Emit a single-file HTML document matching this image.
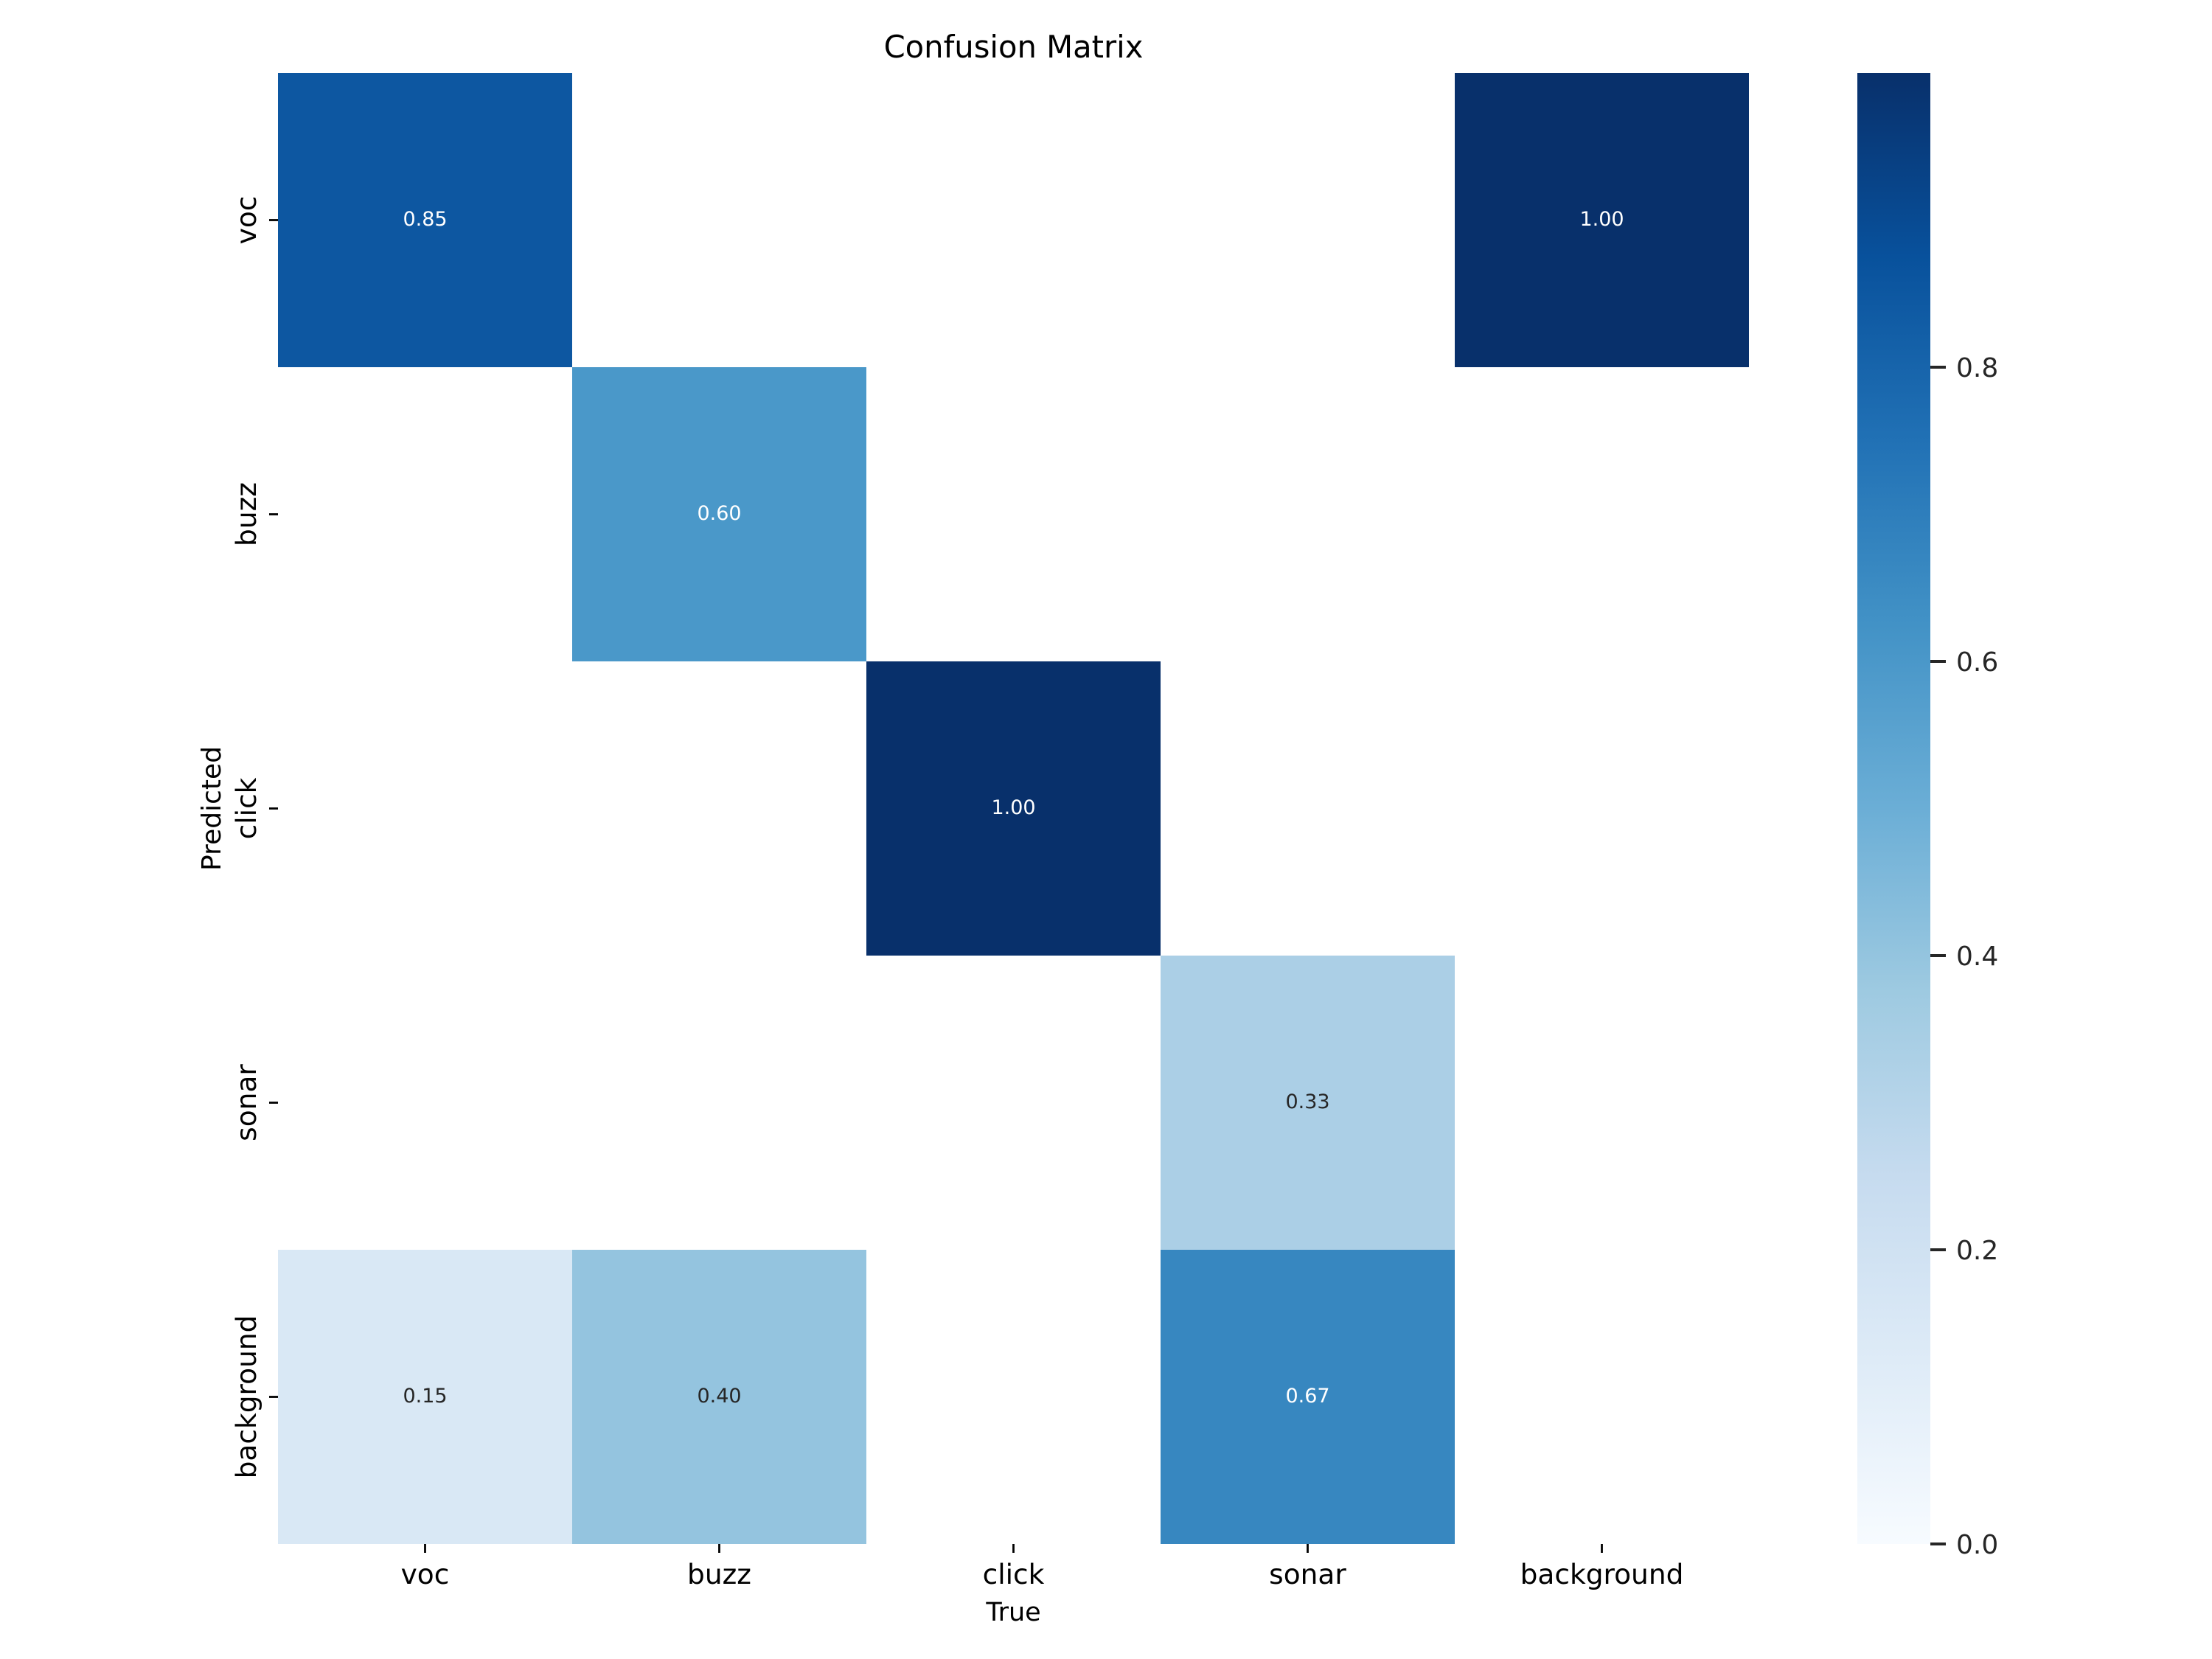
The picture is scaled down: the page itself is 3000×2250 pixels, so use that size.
<!DOCTYPE html>
<html>
<head>
<meta charset="utf-8">
<style>
  html, body { margin: 0; padding: 0; background: #ffffff; }
  svg { display: block; }
  text { font-family: "DejaVu Sans", "Liberation Sans", sans-serif; }
</style>
</head>
<body>
<svg xmlns="http://www.w3.org/2000/svg" width="3000" height="2250" viewBox="0 0 3000 2250">
  <defs>
    <linearGradient id="blues" x1="0" y1="1" x2="0" y2="0">
      <stop offset="0" stop-color="#f7fbff"/>
      <stop offset="0.125" stop-color="#deebf7"/>
      <stop offset="0.25" stop-color="#c6dbef"/>
      <stop offset="0.375" stop-color="#9ecae1"/>
      <stop offset="0.5" stop-color="#6baed6"/>
      <stop offset="0.625" stop-color="#4292c6"/>
      <stop offset="0.75" stop-color="#2171b5"/>
      <stop offset="0.875" stop-color="#08519c"/>
      <stop offset="1" stop-color="#08306b"/>
    </linearGradient>
  </defs>
  <rect x="0" y="0" width="3000" height="2250" fill="#ffffff"/>

  <!-- Title -->
  <text x="1374.5" y="78" font-size="41.7" text-anchor="middle" fill="#000">Confusion Matrix</text>

  <!-- Heatmap cells (x0=377, y0=99, cell=399) -->
  <rect x="377" y="99" width="399" height="399" fill="#0d57a1"/>
  <rect x="1973" y="99" width="399" height="399" fill="#08306b"/>
  <rect x="776" y="498" width="399" height="399" fill="#4a98c9"/>
  <rect x="1175" y="897" width="399" height="399" fill="#08306b"/>
  <rect x="1574" y="1296" width="399" height="399" fill="#abcfe6"/>
  <rect x="377" y="1695" width="399" height="399" fill="#d9e8f5"/>
  <rect x="776" y="1695" width="399" height="399" fill="#94c4df"/>
  <rect x="1574" y="1695" width="399" height="399" fill="#3787c0"/>

  <!-- Annotations -->
  <g font-size="27" text-anchor="middle">
    <text x="576.5" y="306" fill="#ffffff">0.85</text>
    <text x="2172.5" y="306" fill="#ffffff">1.00</text>
    <text x="975.5" y="705" fill="#ffffff">0.60</text>
    <text x="1374.5" y="1104" fill="#ffffff">1.00</text>
    <text x="1773.5" y="1503" fill="#262626">0.33</text>
    <text x="576.5" y="1902" fill="#262626">0.15</text>
    <text x="975.5" y="1902" fill="#262626">0.40</text>
    <text x="1773.5" y="1902" fill="#ffffff">0.67</text>
  </g>

  <!-- X ticks -->
  <g stroke="#000" stroke-width="2.8">
    <line x1="576.5" y1="2094" x2="576.5" y2="2106"/>
    <line x1="975.5" y1="2094" x2="975.5" y2="2106"/>
    <line x1="1374.5" y1="2094" x2="1374.5" y2="2106"/>
    <line x1="1773.5" y1="2094" x2="1773.5" y2="2106"/>
    <line x1="2172.5" y1="2094" x2="2172.5" y2="2106"/>
  </g>
  <g font-size="37.5" text-anchor="middle" fill="#000">
    <text x="576.5" y="2148">voc</text>
    <text x="975.5" y="2148">buzz</text>
    <text x="1374.5" y="2148">click</text>
    <text x="1773.5" y="2148">sonar</text>
    <text x="2172.5" y="2148">background</text>
  </g>
  <text x="1374.5" y="2198" font-size="35" text-anchor="middle" fill="#000">True</text>

  <!-- Y ticks -->
  <g stroke="#000" stroke-width="2.8">
    <line x1="365" y1="298.5" x2="377" y2="298.5"/>
    <line x1="365" y1="697.5" x2="377" y2="697.5"/>
    <line x1="365" y1="1096.5" x2="377" y2="1096.5"/>
    <line x1="365" y1="1495.5" x2="377" y2="1495.5"/>
    <line x1="365" y1="1894.5" x2="377" y2="1894.5"/>
  </g>
  <g font-size="37.5" text-anchor="middle" fill="#000">
    <text transform="translate(347,298.5) rotate(-90)">voc</text>
    <text transform="translate(347,697.5) rotate(-90)">buzz</text>
    <text transform="translate(347,1096.5) rotate(-90)">click</text>
    <text transform="translate(347,1495.5) rotate(-90)">sonar</text>
    <text transform="translate(347,1894.5) rotate(-90)">background</text>
  </g>
  <text transform="translate(299,1096.5) rotate(-90)" font-size="36" text-anchor="middle" fill="#000">Predicted</text>

  <!-- Colorbar -->
  <rect x="2519" y="99" width="99" height="1995" fill="url(#blues)"/>
  <g stroke="#262626" stroke-width="4">
    <line x1="2618" y1="2094" x2="2639" y2="2094"/>
    <line x1="2618" y1="1695" x2="2639" y2="1695"/>
    <line x1="2618" y1="1296" x2="2639" y2="1296"/>
    <line x1="2618" y1="897" x2="2639" y2="897"/>
    <line x1="2618" y1="498" x2="2639" y2="498"/>
  </g>
  <g font-size="36" fill="#262626">
    <text x="2653" y="2107">0.0</text>
    <text x="2653" y="1708">0.2</text>
    <text x="2653" y="1309">0.4</text>
    <text x="2653" y="910">0.6</text>
    <text x="2653" y="511">0.8</text>
  </g>
</svg>
</body>
</html>
